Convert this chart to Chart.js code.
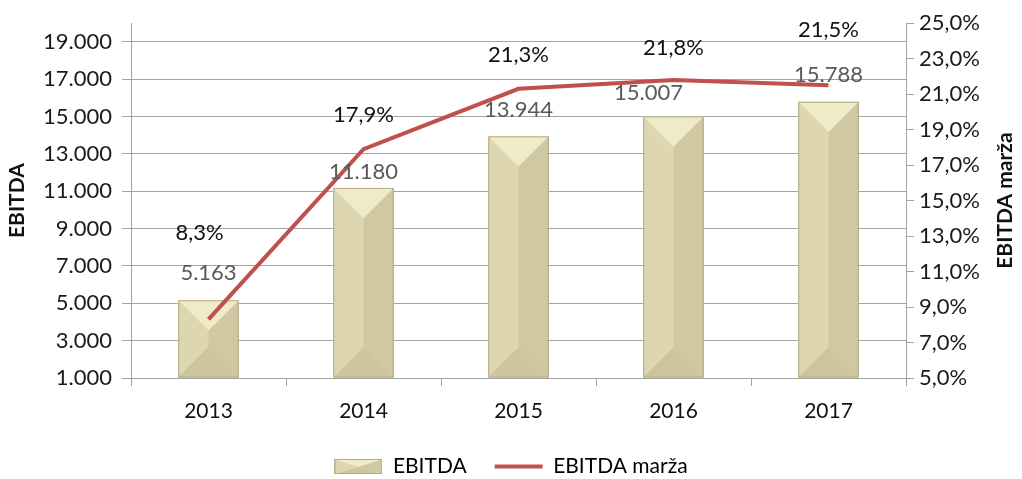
<!DOCTYPE html>
<html>
<head>
<meta charset="utf-8">
<script src="https://cdn.jsdelivr.net/npm/chart.js@4"></script>
<style>
    html, body { margin: 0; padding: 0; background: #fff; }
    #wrap { width: 1022px; height: 479px; }
</style>
</head>
<body>
<div id="wrap"><canvas id="ebitdaChart"></canvas></div>
<script>
const years = ['2013', '2014', '2015', '2016', '2017'];
const ebitda = [5163, 11180, 13944, 15007, 15788];
const ebitdaMargin = [8.3, 17.9, 21.3, 21.8, 21.5];
const leftTicks = [1000, 3000, 5000, 7000, 9000, 11000, 13000, 15000, 17000, 19000];
const rightTicks = [5, 7, 9, 11, 13, 15, 17, 19, 21, 23, 25];

const FONT = 'Lato, "Open Sans", sans-serif';
const RED = '#c0504d';
const GRID = '#a3a3a3';

// thousands with a dot, percent with a comma
const fmtNum = v => String(v).replace(/\B(?=(\d{3})+(?!\d))/g, '.');
const fmtPct = v => v.toFixed(1).replace('.', ',') + '%';

// beveled box like the Excel bar style
function drawBevel(ctx, left, top, right, bottom) {
    const w = right - left;
    const h = bottom - top;
    const cx = (left + right) / 2;
    const d = Math.min(w / 2, h / 2);
    const poly = (pts, color) => {
        ctx.beginPath();
        ctx.moveTo(pts[0][0], pts[0][1]);
        pts.slice(1).forEach(p => ctx.lineTo(p[0], p[1]));
        ctx.closePath();
        ctx.fillStyle = color;
        ctx.fill();
    };
    const cyTop = top + d;
    const cyBot = bottom - d;
    poly([[left, top], [cx, cyTop], [cx, cyBot], [left, bottom]], '#ddd6b0');
    poly([[right, top], [cx, cyTop], [cx, cyBot], [right, bottom]], '#d0c8a2');
    poly([[left, top], [right, top], [cx, cyTop]], '#f0ebc7');
    poly([[left, bottom], [right, bottom], [cx, cyBot]], '#cdc59e');
    ctx.strokeStyle = '#b4ac86';
    ctx.lineWidth = 1;
    ctx.strokeRect(left + 0.5, top + 0.5, w - 1, h - 1);
}

function legendBox() {
    const c = document.createElement('canvas');
    c.width = 48;
    c.height = 15;
    drawBevel(c.getContext('2d'), 0, 0, 48, 15);
    return c;
}

const bevelPlugin = {
    id: 'bevelBars',
    afterDatasetDraw(chart, args) {
        if (args.index !== 0) return;
        const ctx = chart.ctx;
        ctx.save();
        args.meta.data.forEach(bar => {
            const half = bar.width / 2;
            drawBevel(ctx, bar.x - half, bar.y, bar.x + half, bar.base);
        });
        ctx.restore();
    }
};

const valueLabels = {
    id: 'valueLabels',
    afterDatasetsDraw(chart, args, opts) {
        const ctx = chart.ctx;
        ctx.save();
        ctx.textAlign = 'center';
        ctx.textBaseline = 'middle';
        ctx.font = '22px ' + FONT;
        const bars = chart.getDatasetMeta(0).data;
        ctx.fillStyle = '#595959';
        bars.forEach((bar, i) => {
            const s = opts.barShift[i];
            ctx.fillText(fmtNum(ebitda[i]), bar.x + s[0], bar.y + s[1]);
        });
        const pts = chart.getDatasetMeta(1).data;
        ctx.fillStyle = '#111';
        pts.forEach((pt, i) => {
            const s = opts.lineShift[i];
            ctx.fillText(fmtPct(ebitdaMargin[i]), pt.x + s[0], pt.y + s[1]);
        });
        ctx.restore();
    }
};

const rightTitle = {
    id: 'rightTitle',
    afterDraw(chart) {
        const ctx = chart.ctx;
        const area = chart.chartArea;
        ctx.save();
        ctx.translate(1005, (area.top + area.bottom) / 2);
        ctx.rotate(-Math.PI / 2);
        ctx.textAlign = 'center';
        ctx.textBaseline = 'middle';
        ctx.font = 'bold 21px ' + FONT;
        ctx.fillStyle = '#111';
        ctx.fillText('EBITDA marža', 0, 0);
        ctx.restore();
    }
};

new Chart(document.getElementById('ebitdaChart'), {
    data: {
        labels: years,
        datasets: [{
            type: 'bar',
            label: 'EBITDA',
            data: ebitda,
            yAxisID: 'y',
            base: leftTicks[0],
            backgroundColor: '#d6cfa8',
            barPercentage: 0.39,
            categoryPercentage: 1,
            order: 1
        }, {
            type: 'line',
            label: 'EBITDA marža',
            data: ebitdaMargin,
            yAxisID: 'y1',
            borderColor: RED,
            borderWidth: 4,
            pointRadius: 0,
            tension: 0,
            order: 0
        }]
    },
    options: {
        responsive: true,
        maintainAspectRatio: false,
        animation: false,
        layout: { padding: { top: 5, right: 0, bottom: -8, left: 0 } },
        scales: {
            x: {
                grid: { drawOnChartArea: false, color: GRID, tickLength: 8, offset: true },
                border: { color: GRID },
                ticks: { color: '#111', font: { size: 21, family: FONT }, padding: 13 },
                afterFit: scale => { scale.height = 50; }
            },
            y: {
                position: 'left',
                min: 1000,
                max: 20000,
                afterBuildTicks: scale => { scale.ticks = leftTicks.map(v => ({ value: v })); },
                grid: { color: GRID, tickLength: 9 },
                border: { color: GRID },
                ticks: { color: '#1a1a1a', font: { size: 22, family: FONT }, padding: 10, callback: v => fmtNum(v) },
                title: { display: true, text: 'EBITDA', color: '#111', font: { size: 21, weight: 'bold', family: FONT }, padding: { top: 5, bottom: 0 } },
                afterFit: scale => { scale.width = 131; }
            },
            y1: {
                position: 'right',
                min: 5,
                max: 25,
                afterBuildTicks: scale => { scale.ticks = rightTicks.map(v => ({ value: v })); },
                grid: { drawOnChartArea: false, color: GRID, tickLength: 8 },
                border: { color: GRID },
                ticks: { color: '#1a1a1a', font: { size: 22, family: FONT }, padding: 5, callback: v => fmtPct(v) },
                afterFit: scale => { scale.width = 116; }
            }
        },
        plugins: {
            tooltip: { enabled: false },
            legend: {
                position: 'bottom',
                labels: {
                    usePointStyle: true,
                    pointStyleWidth: 48,
                    boxHeight: 15,
                    padding: 28,
                    color: '#111',
                    font: { size: 21, family: FONT },
                    generateLabels: () => [
                        { text: 'EBITDA', pointStyle: legendBox(), fillStyle: '#d6cfa8', strokeStyle: '#b4ac86', lineWidth: 0, datasetIndex: 0 },
                        { text: 'EBITDA marža', pointStyle: 'line', fillStyle: RED, strokeStyle: RED, lineWidth: 4, datasetIndex: 1 }
                    ]
                }
            },
            valueLabels: {
                barShift: [[0, -27], [0, -16], [0, -26], [-25, -24], [0, -27]],
                lineShift: [[-9, -87], [0, -34], [0, -34], [0, -32], [0, -55]]
            }
        }
    },
    plugins: [bevelPlugin, valueLabels, rightTitle]
});
</script>
</body>
</html>
